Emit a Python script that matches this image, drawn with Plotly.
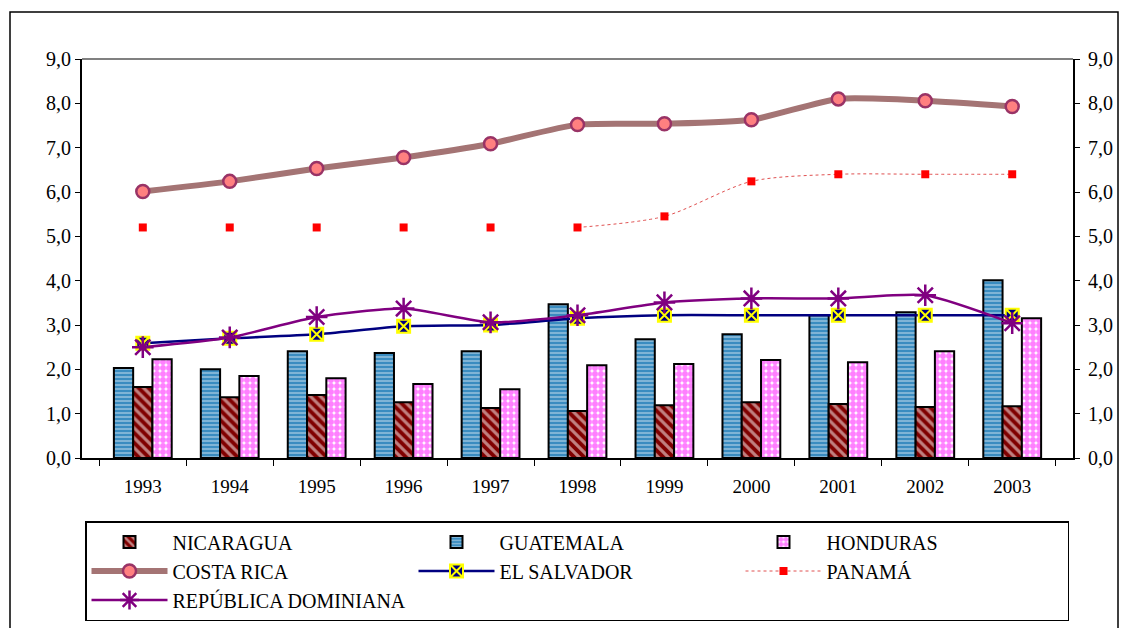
import plotly.graph_objects as go

years = ["1993", "1994", "1995", "1996", "1997", "1998", "1999", "2000", "2001", "2002", "2003"]

nicaragua = [1.60, 1.37, 1.42, 1.26, 1.13, 1.06, 1.19, 1.26, 1.22, 1.15, 1.17]
guatemala = [2.03, 2.00, 2.41, 2.37, 2.41, 3.47, 2.68, 2.79, 3.22, 3.29, 4.01]
honduras = [2.23, 1.85, 1.80, 1.67, 1.55, 2.09, 2.12, 2.21, 2.16, 2.41, 3.15]
costa_rica = [6.01, 6.24, 6.53, 6.78, 7.09, 7.52, 7.54, 7.63, 8.10, 8.06, 7.93]
el_salvador = [2.59, 2.70, 2.79, 2.97, 3.00, 3.15, 3.22, 3.22, 3.22, 3.22, 3.22]
panama = [5.20, 5.20, 5.20, 5.20, 5.20, 5.20, 5.45, 6.24, 6.40, 6.40, 6.40]
rep_dominicana = [2.50, 2.72, 3.18, 3.37, 3.06, 3.22, 3.51, 3.60, 3.60, 3.67, 3.04]

yticks = [0, 1, 2, 3, 4, 5, 6, 7, 8, 9]

FONT = "Liberation Serif"

fig = go.Figure()

fig.add_trace(go.Bar(
    x=years, y=guatemala, name="GUATEMALA", legendrank=2,
    marker=dict(color="#3A8CC0", line=dict(color="black", width=2),
                pattern=dict(shape="-", fgcolor="white", bgcolor="#3A8CC0", size=4, solidity=0.35)),
))
fig.add_trace(go.Bar(
    x=years, y=nicaragua, name="NICARAGUA", legendrank=1,
    marker=dict(color="#800000", line=dict(color="black", width=2),
                pattern=dict(shape="\\", fgcolor="white", bgcolor="#800000", size=7, solidity=0.45)),
))
fig.add_trace(go.Bar(
    x=years, y=honduras, name="HONDURAS", legendrank=3,
    marker=dict(color="white", line=dict(color="black", width=2),
                pattern=dict(shape=".", fgcolor="#FF00FF", bgcolor="white", size=6, solidity=0.75)),
))

fig.add_trace(go.Scatter(
    x=years, y=costa_rica, name="COSTA RICA", legendrank=4, mode="lines+markers",
    line=dict(color="#A47474", width=6, shape="spline", smoothing=0.6),
    marker=dict(symbol="circle", size=13, color="#FF8080", line=dict(color="#993366", width=2.5)),
))
fig.add_trace(go.Scatter(
    x=years, y=el_salvador, name="EL SALVADOR", legendrank=5, mode="lines+markers",
    line=dict(color="#000080", width=2.5, shape="spline", smoothing=0.6),
    marker=dict(symbol="square-x", size=13, color="#000080", line=dict(color="#FFFF00", width=2)),
))
panama_line = [None] * 5 + panama[5:]
fig.add_trace(go.Scatter(
    x=years, y=panama_line, name="PANAMÁ", legendrank=6, mode="lines+markers",
    line=dict(color="#E05050", width=1, dash="dot", shape="spline", smoothing=0.8),
    marker=dict(symbol="square", size=8, color="#FF0000"),
))
fig.add_trace(go.Scatter(
    x=years[:5], y=panama[:5], name="PANAMÁ", showlegend=False, mode="markers",
    marker=dict(symbol="square", size=8, color="#FF0000"),
))
fig.add_trace(go.Scatter(
    x=years, y=rep_dominicana, name="REPÚBLICA DOMINIANA", legendrank=7, mode="lines+markers",
    line=dict(color="#800080", width=2.5, shape="spline", smoothing=0.6),
    marker=dict(symbol="asterisk-open", size=18, color="#800080", line=dict(color="#800080", width=2.5)),
))
# invisible trace to carry the right axis
fig.add_trace(go.Scatter(x=years, y=costa_rica, yaxis="y2", mode="markers",
                         marker=dict(opacity=0), showlegend=False, hoverinfo="skip"))

# the page body adds an 8px offset; work in figure coordinates = reference - 8
OFF = 8
W, H = 1129 - OFF, 628 - OFF
L, T = 82 - OFF, 59 - OFF
R = W - (1073 - OFF)
B = H - (458 - OFF)
pw, ph = W - L - R, H - T - B

def px(x):
    return (x - OFF - L) / pw

def py(y):
    return (H - B - (y - OFF)) / ph

fig.update_layout(
    width=W, height=H,
    margin=dict(l=L, r=R, t=T, b=B, autoexpand=False),
    paper_bgcolor="white", plot_bgcolor="white",
    separators=",.",
    barmode="group", bargap=0.335, bargroupgap=0,
    font=dict(family=FONT, size=19, color="black"),
    xaxis=dict(type="category", tickson="boundaries", ticks="outside", ticklen=6,
               tickcolor="black", showline=True, linecolor="black", linewidth=1.5,
               showgrid=False, ticklabelstandoff=10, tickfont=dict(size=19, family=FONT)),
    yaxis=dict(range=[0, 9], tickvals=yticks, tickformat=".1f", ticks="outside", ticklen=5,
               tickcolor="black", showline=True, linecolor="black", linewidth=2,
               showgrid=False, zeroline=False, tickfont=dict(size=20, family=FONT)),
    yaxis2=dict(range=[0, 9], tickvals=yticks, tickformat=".1f", ticks="outside", ticklen=5,
                tickcolor="black", showline=True, linecolor="black", linewidth=2,
                overlaying="y", side="right", showgrid=False, zeroline=False,
                ticklabelstandoff=4, tickfont=dict(size=20, family=FONT)),
    legend=dict(orientation="h", x=px(85), xanchor="left", y=py(521), yanchor="top",
                bgcolor="white", bordercolor="black", borderwidth=1.5,
                itemwidth=76, entrywidth=236, entrywidthmode="pixels", traceorder="normal",
                font=dict(family=FONT, size=20, color="black")),
    showlegend=True,
    shapes=[
        dict(type="rect", xref="paper", yref="paper", x0=px(10), x1=px(1118), y0=py(660), y1=py(12),
             line=dict(color="black", width=1.5), fillcolor="rgba(0,0,0,0)", layer="below"),
        dict(type="line", xref="paper", yref="paper", x0=0, x1=1, y0=1, y1=1,
             line=dict(color="#808080", width=2)),
    ],
)

fig.write_html("out.html")
